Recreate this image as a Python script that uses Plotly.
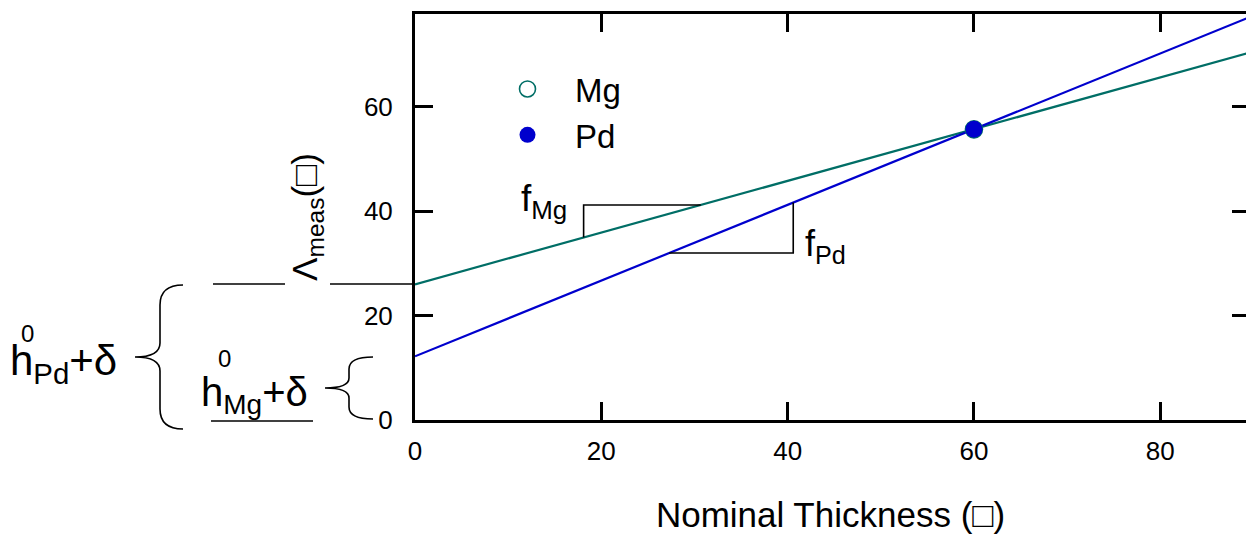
import plotly.graph_objects as go

# ---------------- data ----------------
fit_x = [0, 90]
mg_fit = [26.0, 70.6]
pd_fit = [12.2, 77.5]

point_x = [60, 90]
mg_points = [55.7, 70.6]
pd_points = [55.7, 77.5]

x_ticks = [0, 20, 40, 60, 80]
y_ticks = [0, 20, 40, 60]

# slope-triangle anchors (data units)
tri_mg_x, tri_mg_top = 18.1, 41.2
tri_pd_x, tri_pd_bottom = 40.6, 32.0

# ---------------- style / layout ----------------
W, H = 1246, 534
L, R, T, B = 415, 1246, 14, 420
X_RANGE = [0, 89.2]
Y_RANGE = [0, 77.8]
FONT = "Liberation Sans, Arial, sans-serif"
TEAL = "#006e66"
BLUE = "#0000cd"


def px(x):
    return (x - L) / (R - L)


def py(y):
    return (B - y) / (B - T)


def path(cmds):
    out = []
    for c in cmds:
        if isinstance(c, str):
            out.append(c)
        else:
            out.append(f"{px(c[0]):.5f},{py(c[1]):.5f}")
    return " ".join(out)


def interp_x(xs, ys, yv):
    return xs[0] + (yv - ys[0]) * (xs[1] - xs[0]) / (ys[1] - ys[0])


def interp_y(xs, ys, xv):
    return ys[0] + (xv - xs[0]) * (ys[1] - ys[0]) / (xs[1] - xs[0])


fig = go.Figure()
fig.add_trace(go.Scatter(x=fit_x, y=mg_fit, mode="lines", line=dict(color=TEAL, width=2.2),
                         showlegend=False, cliponaxis=True))
fig.add_trace(go.Scatter(x=fit_x, y=pd_fit, mode="lines", line=dict(color=BLUE, width=2.2),
                         showlegend=False, cliponaxis=True))
fig.add_trace(go.Scatter(x=point_x, y=mg_points, mode="markers", name="Mg",
                         marker=dict(symbol="circle-open", size=17, color=TEAL, line=dict(width=1.6)),
                         cliponaxis=False))
fig.add_trace(go.Scatter(x=point_x, y=pd_points, mode="markers", name="Pd",
                         marker=dict(symbol="circle", size=17, color=BLUE),
                         cliponaxis=False))
# carrier for the right-hand tick axis
fig.add_trace(go.Scatter(x=[], y=[], yaxis="y2", showlegend=False))

shapes = []
line_style = dict(color="black", width=1.6)

# slope triangles
mg_y_at = interp_y(fit_x, mg_fit, tri_mg_x)
mg_x_at = interp_x(fit_x, mg_fit, tri_mg_top)
shapes.append(dict(type="path", xref="x", yref="y", line=line_style,
                   path=f"M {tri_mg_x},{mg_y_at} L {tri_mg_x},{tri_mg_top} L {mg_x_at},{tri_mg_top}"))
pd_y_at = interp_y(fit_x, pd_fit, tri_pd_x)
pd_x_at = interp_x(fit_x, pd_fit, tri_pd_bottom)
shapes.append(dict(type="path", xref="x", yref="y", line=line_style,
                   path=f"M {tri_pd_x},{pd_y_at} L {tri_pd_x},{tri_pd_bottom} L {pd_x_at},{tri_pd_bottom}"))

# intercept guide lines (outside plot, pixel-placed)
for (x0, y0, x1, y1) in [(213, 284, 285, 284), (330, 284, 415, 284), (211, 421, 313, 421)]:
    shapes.append(dict(type="line", xref="paper", yref="paper", line=line_style,
                       x0=px(x0), y0=py(y0), x1=px(x1), y1=py(y1)))

# braces
big_brace = ["M", (183, 285), "Q", (160, 285), (160, 305), "L", (160, 343), "Q", (160, 357), (135, 357),
             "Q", (160, 357), (160, 371), "L", (160, 409), "Q", (160, 429), (183, 429)]
small_brace = ["M", (373, 357), "Q", (349, 357), (349, 369), "L", (349, 378), "Q", (349, 388), (325, 388),
               "Q", (349, 388), (349, 398), "L", (349, 407), "Q", (349, 419), (373, 419)]
for b in (big_brace, small_brace):
    shapes.append(dict(type="path", xref="paper", yref="paper", line=line_style, path=path(b)))

annotations = []


def text(x, y, s, size, xanchor="left", yanchor="middle"):
    annotations.append(dict(x=px(x), y=py(y), xref="paper", yref="paper", text=s, showarrow=False,
                            xanchor=xanchor, yanchor=yanchor, font=dict(size=size, color="black", family=FONT)))


text(519, 201, "f<sub>Mg</sub>", 37)
text(803, 246, "f<sub>Pd</sub>", 36)
text(8, 363, "h<sub>Pd</sub>+δ", 42)
text(19, 333, "0", 24)
text(199, 395, "h<sub>Mg</sub>+δ", 40)
text(216, 358, "0", 24)

fig.update_layout(
    width=W, height=H,
    margin=dict(l=L, r=W - R, t=T, b=H - B, pad=0),
    paper_bgcolor="white", plot_bgcolor="white",
    font=dict(family=FONT, color="black", size=26),
    shapes=shapes, annotations=annotations,
    showlegend=True,
    legend=dict(x=px(480), y=py(61), xanchor="left", yanchor="top",
                font=dict(size=33, family=FONT, color="black"),
                bgcolor="rgba(0,0,0,0)", itemsizing="trace", itemwidth=85,
                tracegroupgap=0),
    xaxis=dict(range=X_RANGE, tickvals=x_ticks, ticks="inside", ticklen=18, tickwidth=2.5,
               tickcolor="black", showline=True, linewidth=3, linecolor="black", mirror="ticks",
               showgrid=False, zeroline=False, tickfont=dict(size=26), ticklabelstandoff=6,
               title=dict(text="Nominal Thickness (□)", font=dict(size=35), standoff=38)),
    yaxis=dict(range=Y_RANGE, tickvals=y_ticks, ticks="inside", ticklen=18, tickwidth=2.5,
               tickcolor="black", showline=True, linewidth=3, linecolor="black",
               showgrid=False, zeroline=False, tickfont=dict(size=26), ticklabelstandoff=14,
               title=dict(text="Λ<sub>meas</sub>(□)", font=dict(size=35), standoff=36)),
    yaxis2=dict(range=Y_RANGE, overlaying="y", side="right", tickvals=y_ticks, ticks="inside",
                ticklen=14, tickwidth=2.5, tickcolor="black", showline=False, showgrid=False,
                zeroline=False, showticklabels=False),
)

fig.write_html("out.html")
